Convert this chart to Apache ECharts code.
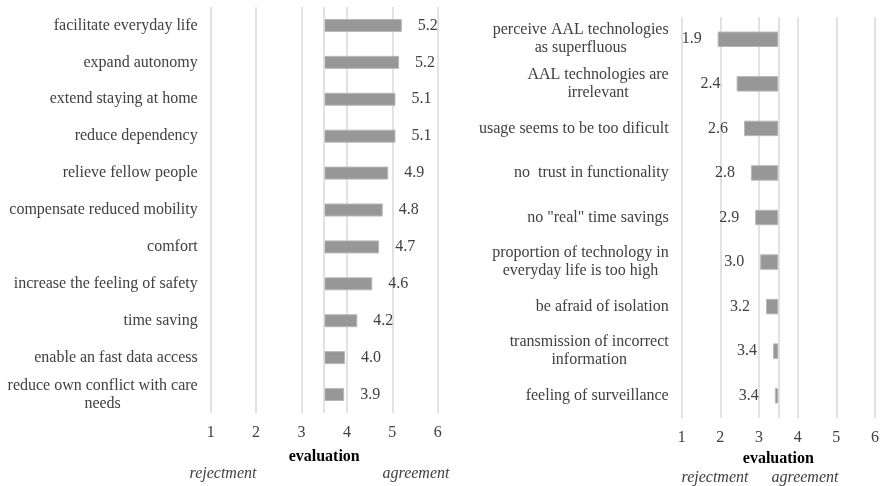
<!DOCTYPE html>
<html>
<head>
<meta charset="utf-8">
<script src="https://cdn.jsdelivr.net/npm/echarts@6/dist/echarts.min.js"></script>
<style>
  html, body { margin: 0; padding: 0; background: #fff; }
  #chart { width: 883px; height: 486px; }
</style>
</head>
<body>
<div id="chart"></div>
<script>
// Mean ratings on a 1-6 scale; bars grow out from the neutral midpoint.
const neutral = 3.5;

const benefitLabels = [
  'facilitate everyday life',
  'expand autonomy',
  'extend staying at home',
  'reduce dependency',
  'relieve fellow people',
  'compensate reduced mobility',
  'comfort',
  'increase the feeling of safety',
  'time saving',
  'enable an fast data access',
  'reduce own conflict with care\nneeds'
];
const benefitValues = [5.21, 5.15, 5.07, 5.07, 4.91, 4.79, 4.71, 4.56, 4.23, 3.96, 3.94];

const barrierLabels = [
  'perceive AAL technologies\nas superfluous',
  'AAL technologies are\nirrelevant',
  'usage seems to be too dificult',
  'no  trust in functionality',
  'no "real" time savings',
  'proportion of technology in\neveryday life is too high',
  'be afraid of isolation',
  'transmission of incorrect\ninformation',
  'feeling of surveillance'
];
const barrierValues = [1.93, 2.42, 2.61, 2.79, 2.90, 3.03, 3.18, 3.36, 3.41];

const scaleTicks = [1, 2, 3, 4, 5, 6];

const FONT = 'Liberation Serif';
const SIZE = 16;
const TEXT = '#404040';
const GRID = '#d9d9d9';
const BAR = '#979797';

// Multi-line category names: lines centred inside a right-aligned block.
function centredLines(name) {
  return name.split('\n').map(l => '{c|' + l + '}').join('\n');
}

function valueAxis(gridIndex, nameGap) {
  return {
    type: 'value', gridIndex, min: scaleTicks[0], max: scaleTicks[scaleTicks.length - 1], interval: 1,
    name: 'evaluation', nameLocation: 'middle', nameGap,
    nameTextStyle: { fontFamily: FONT, fontSize: SIZE, fontWeight: 'bold', color: '#000' },
    axisLine: { show: false }, axisTick: { show: false },
    axisLabel: { fontFamily: FONT, fontSize: SIZE, color: TEXT, margin: 12 },
    splitLine: { show: true, lineStyle: { color: GRID, width: 1.5 } }
  };
}

function categoryAxis(gridIndex, data) {
  return {
    type: 'category', gridIndex, data, inverse: true,
    axisLine: { show: false }, axisTick: { show: false },
    axisLabel: {
      fontFamily: FONT, fontSize: SIZE, color: TEXT, margin: 13, lineHeight: 18,
      formatter: centredLines,
      rich: { c: { align: 'center', fontFamily: FONT, fontSize: SIZE, color: TEXT, lineHeight: 18 } }
    }
  };
}

const neutralLine = {
  silent: true, symbol: 'none', label: { show: false },
  lineStyle: { color: GRID, width: 1.5, type: 'solid' },
  data: [{ xAxis: neutral }]
};

function endNote(text, x, y) {
  return {
    type: 'text', x, y,
    style: { text, align: 'center', verticalAlign: 'middle', font: 'italic 16px "Liberation Serif"', fill: TEXT }
  };
}

const option = {
  animation: false,
  backgroundColor: '#fff',
  grid: [
    { left: 210.7, top: 7, width: 227, height: 406 },
    { left: 681.7, top: 17, width: 193.3, height: 401 }
  ],
  xAxis: [valueAxis(0, 36), valueAxis(1, 33)],
  yAxis: [categoryAxis(0, benefitLabels), categoryAxis(1, barrierLabels)],
  series: [
    {
      type: 'bar', xAxisIndex: 0, yAxisIndex: 0, stack: 'benefit', silent: true,
      barWidth: 13, itemStyle: { color: 'transparent' },
      data: benefitValues.map(() => neutral),
      markLine: neutralLine
    },
    {
      type: 'bar', xAxisIndex: 0, yAxisIndex: 0, stack: 'benefit', barWidth: 13,
      itemStyle: { color: BAR, borderColor: '#b8b8b8', borderWidth: 1 },
      label: {
        show: true, position: 'right', distance: 16,
        fontFamily: FONT, fontSize: SIZE, color: TEXT,
        formatter: p => benefitValues[p.dataIndex].toFixed(1)
      },
      data: benefitValues.map(v => v - neutral)
    },
    {
      type: 'bar', xAxisIndex: 1, yAxisIndex: 1, stack: 'barrier', silent: true,
      barWidth: 15.5, itemStyle: { color: 'transparent' },
      data: barrierValues.slice(),
      markLine: neutralLine
    },
    {
      type: 'bar', xAxisIndex: 1, yAxisIndex: 1, stack: 'barrier', barWidth: 15.5,
      itemStyle: { color: BAR, borderColor: '#b8b8b8', borderWidth: 1 },
      label: {
        show: true, position: 'left', distance: 16,
        fontFamily: FONT, fontSize: SIZE, color: TEXT,
        formatter: p => barrierValues[p.dataIndex].toFixed(1)
      },
      data: barrierValues.map(v => neutral - v)
    }
  ],
  graphic: [
    endNote('rejectment', 223, 474),
    endNote('agreement', 416, 474),
    endNote('rejectment', 715, 478),
    endNote('agreement', 805, 478)
  ]
};

echarts.init(document.getElementById('chart'), null, { renderer: 'canvas' }).setOption(option);
</script>
</body>
</html>
